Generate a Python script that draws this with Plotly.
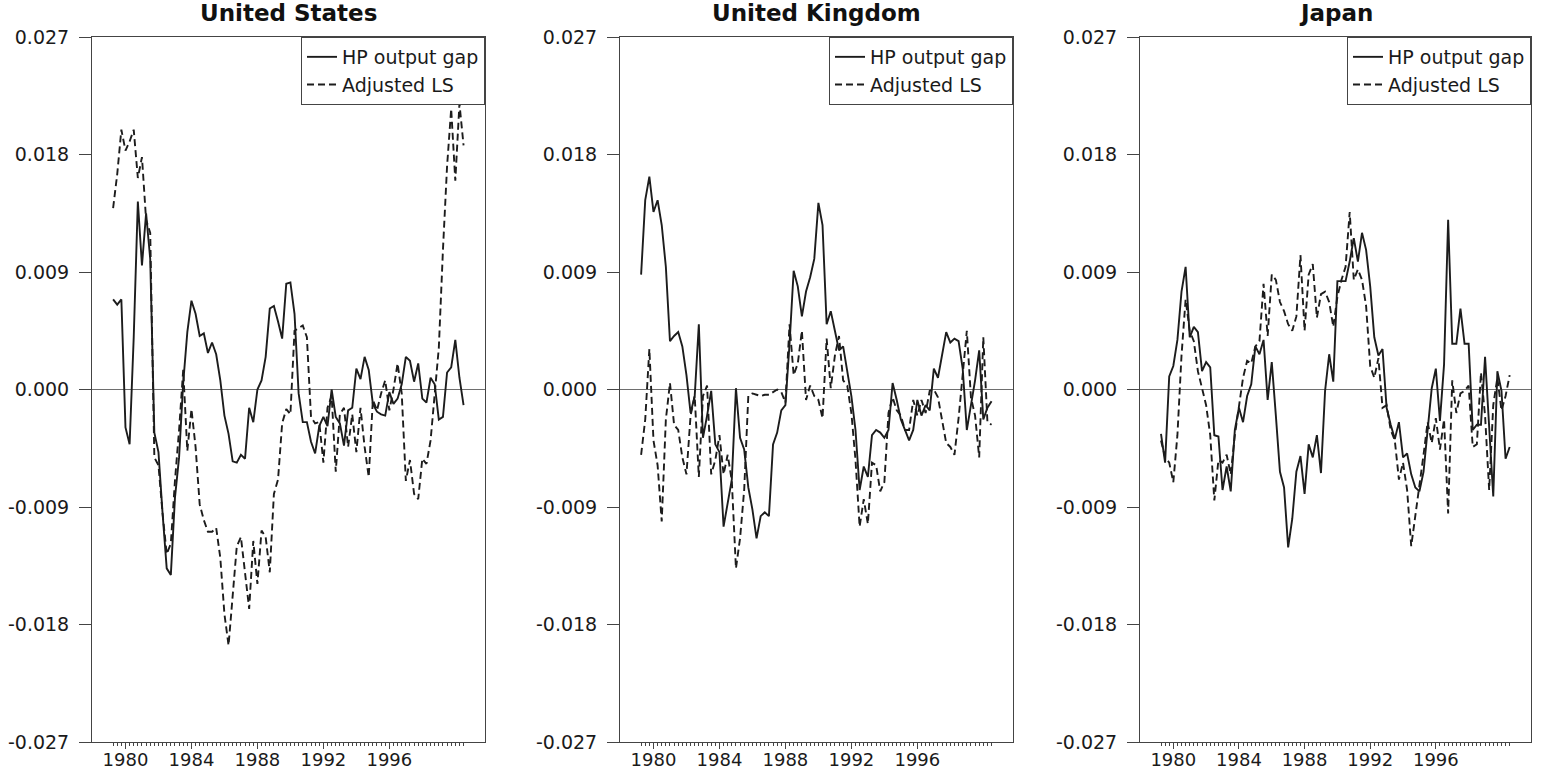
import plotly.graph_objects as go

# ---------------- data (quarterly, 1979Q2 .. 2000Q3) ----------------
n_obs = 86
quarters = [1979.25 + 0.25 * k for k in range(n_obs)]

us_hp = [0.0069, 0.0065, 0.0069, -0.0029, -0.0042, 0.0040, 0.0144, 0.0095, 0.0135, 0.0100,
         -0.0033, -0.0048, -0.0095, -0.0137, -0.0142, -0.0083, -0.0052, 0.0005,
         0.0044, 0.0068, 0.0058, 0.0041, 0.0043, 0.0028, 0.0036, 0.0027, 0.0007, -0.0020,
         -0.0034, -0.0055, -0.0056, -0.0050, -0.0053, -0.0014, -0.0025, 0.0000, 0.0007, 0.0025,
         0.0062, 0.0064, 0.0052, 0.0039, 0.0081, 0.0082, 0.0058, -0.0003, -0.0025, -0.0025,
         -0.0040, -0.0049, -0.0028, -0.0021, -0.0028, 0.0000, -0.0021, -0.0026, -0.0043, -0.0016,
         -0.0014, 0.0016, 0.0008, 0.0025, 0.0015, -0.0011, -0.0017, -0.0019, -0.0020, -0.0002,
         -0.0011, -0.0007, 0.0004, 0.0025, 0.0022, 0.0006, 0.0020, -0.0007, -0.0010, 0.0009,
         0.0004, -0.0023, -0.0021, 0.0013, 0.0017, 0.0038, 0.0009, -0.0012]
us_ls = [0.0139, 0.0165, 0.0199, 0.0183, 0.0190, 0.0199, 0.0162, 0.0178, 0.0130, 0.0120,
         -0.0052, -0.0058, -0.0095, -0.0126, -0.0118, -0.0070, -0.0031, 0.0015, -0.0047, -0.0015,
         -0.0044, -0.0088, -0.0100, -0.0109, -0.0109, -0.0106, -0.0129, -0.0172, -0.0196, -0.0157,
         -0.0120, -0.0113, -0.0141, -0.0168, -0.0116, -0.0149, -0.0108, -0.0113, -0.0140, -0.0080,
         -0.0069, -0.0026, -0.0015, -0.0019, 0.0045, 0.0047, 0.0049, 0.0040, -0.0021, -0.0026,
         -0.0025, -0.0056, -0.0014, -0.0005, -0.0063, -0.0019, -0.0014, -0.0044, -0.0019, -0.0048,
         -0.0014, -0.0044, -0.0067, -0.0008, -0.0016, -0.0003, 0.0007, -0.0016, 0.0000, 0.0020,
         -0.0003, -0.0070, -0.0054, -0.0080, -0.0084, -0.0053, -0.0057, -0.0039, -0.0006, 0.0032,
         0.0107, 0.0171, 0.0215, 0.0160, 0.0219, 0.0187]

uk_hp = [0.0088, 0.0145, 0.0163, 0.0136, 0.0145, 0.0126, 0.0094, 0.0037, 0.0041, 0.0044,
         0.0033, 0.0011, -0.0018, -0.0005, 0.0050, -0.0037, -0.0020, -0.0001, -0.0042, -0.0048,
         -0.0105, -0.0088, -0.0069, 0.0001, -0.0037, -0.0046, -0.0075, -0.0092, -0.0114, -0.0097,
         -0.0094, -0.0097, -0.0042, -0.0033, -0.0016, -0.0012, 0.0035, 0.0091, 0.0079, 0.0056,
         0.0075, 0.0086, 0.0100, 0.0143, 0.0126, 0.0050, 0.0060, 0.0045, 0.0030, 0.0033,
         0.0013, -0.0005, -0.0031, -0.0077, -0.0059, -0.0067, -0.0035, -0.0031, -0.0033, -0.0037,
         -0.0031, 0.0005, -0.0008, -0.0023, -0.0031, -0.0039, -0.0031, -0.0008, -0.0020, -0.0012,
         -0.0016, 0.0016, 0.0009, 0.0026, 0.0044, 0.0036, 0.0039, 0.0037, 0.0016, -0.0031,
         -0.0012, 0.0007, 0.0030, -0.0023, -0.0014, -0.0009]
uk_ls = [-0.0050, -0.0023, 0.0031, -0.0039, -0.0058, -0.0101, -0.0023, 0.0005, -0.0027, -0.0031,
         -0.0052, -0.0065, -0.0020, -0.0005, -0.0067, -0.0005, 0.0003, -0.0065, -0.0054, -0.0035,
         -0.0065, -0.0050, -0.0070, -0.0137, -0.0114, -0.0077, -0.0005, -0.0003, -0.0004, -0.0005,
         -0.0004, -0.0004, -0.0002, 0.0000, -0.0002, -0.0010, 0.0050, 0.0011, 0.0020, 0.0045,
         -0.0008, 0.0003, -0.0005, -0.0008, -0.0022, 0.0039, 0.0001, 0.0026, 0.0041, 0.0007,
         0.0003, -0.0018, -0.0054, -0.0105, -0.0084, -0.0103, -0.0056, -0.0058, -0.0078, -0.0071,
         -0.0018, -0.0006, -0.0016, -0.0020, -0.0031, -0.0031, -0.0008, -0.0020, -0.0008, -0.0018,
         -0.0001, 0.0000, -0.0006, -0.0023, -0.0041, -0.0044, -0.0050, -0.0022, 0.0009, 0.0045,
         -0.0006, -0.0020, -0.0052, 0.0040, -0.0025, -0.0027]

jp_hp = [-0.0034, -0.0056, 0.0010, 0.0018, 0.0038, 0.0075, 0.0094, 0.0040, 0.0048, 0.0044,
         0.0014, 0.0021, 0.0017, -0.0035, -0.0036, -0.0077, -0.0059, -0.0078, -0.0031, -0.0014,
         -0.0025, -0.0005, 0.0004, 0.0033, 0.0027, 0.0038, -0.0008, 0.0021, -0.0020, -0.0063,
         -0.0075, -0.0121, -0.0099, -0.0063, -0.0051, -0.0080, -0.0042, -0.0052, -0.0035, -0.0064,
         -0.0001, 0.0027, 0.0006, 0.0083, 0.0083, 0.0083, 0.0098, 0.0116, 0.0098, 0.0120,
         0.0107, 0.0079, 0.0040, 0.0026, 0.0031, -0.0014, -0.0027, -0.0038, -0.0025, -0.0052,
         -0.0049, -0.0065, -0.0075, -0.0078, -0.0063, -0.0031, 0.0001, 0.0016, -0.0024, 0.0019,
         0.0130, 0.0035, 0.0035, 0.0062, 0.0035, 0.0035, -0.0031, -0.0027, -0.0027, 0.0025,
         -0.0025, -0.0082, 0.0014, -0.0001, -0.0053, -0.0044]
jp_ls = [-0.0039, -0.0052, -0.0056, -0.0071, -0.0035, 0.0026, 0.0069, 0.0045, 0.0037, 0.0014,
         0.0001, -0.0012, -0.0035, -0.0085, -0.0054, -0.0056, -0.0050, -0.0065, -0.0035, -0.0012,
         0.0009, 0.0022, 0.0020, 0.0033, 0.0037, 0.0081, 0.0041, 0.0088, 0.0084, 0.0067,
         0.0060, 0.0050, 0.0045, 0.0056, 0.0103, 0.0045, 0.0088, 0.0096, 0.0055, 0.0073,
         0.0075, 0.0067, 0.0048, 0.0071, 0.0084, 0.0094, 0.0136, 0.0084, 0.0092, 0.0084,
         0.0064, 0.0018, 0.0009, 0.0024, -0.0014, -0.0012, -0.0031, -0.0039, -0.0069, -0.0056,
         -0.0077, -0.0120, -0.0097, -0.0077, -0.0050, -0.0025, -0.0041, -0.0022, -0.0046, -0.0023,
         -0.0095, 0.0007, -0.0018, -0.0003, -0.0001, 0.0003, -0.0044, -0.0042, 0.0013, -0.0020,
         -0.0077, -0.0012, 0.0009, -0.0016, -0.0005, 0.0011]

countries = ["United States", "United Kingdom", "Japan"]
hp_series = [us_hp, uk_hp, jp_hp]
ls_series = [us_ls, uk_ls, jp_ls]
series_names = ["HP output gap", "Adjusted LS"]

year_ticks = list(range(1980, 2001))
year_labels = [str(y) if y in (1980, 1984, 1988, 1992, 1996) else "" for y in year_ticks]
y_ticks = [-0.027, -0.018, -0.009, 0.0, 0.009, 0.018, 0.027]
y_labels = ["-0.027", "-0.018", "-0.009", "0.000", "0.009", "0.018", "0.027"]

# ---------------- layout geometry (pixels) ----------------
W, H = 1545, 773
panels_px = [(92, 485), (620, 1013), (1140, 1531)]
y_top, y_bot = 37, 742
FONT = "DejaVu Sans"
LINE = "#1c1c1c"
FRAME = "#444444"

fig = go.Figure()
layout = dict(
    width=W, height=H,
    margin=dict(l=0, r=0, t=0, b=0, autoexpand=False),
    paper_bgcolor="white", plot_bgcolor="white",
    showlegend=True,
    annotations=[],
)

for k in range(3):
    sfx = "" if k == 0 else str(k + 1)
    xa, ya = "x" + sfx, "y" + sfx
    lg = "legend" + sfx
    fig.add_trace(go.Scatter(x=quarters, y=hp_series[k], mode="lines", name=series_names[0],
                             line=dict(color=LINE, width=1.9), xaxis=xa, yaxis=ya, legend=lg))
    fig.add_trace(go.Scatter(x=quarters, y=ls_series[k], mode="lines", name=series_names[1],
                             line=dict(color=LINE, width=1.9, dash="7px,4px"),
                             xaxis=xa, yaxis=ya, legend=lg))
    x0, x1 = panels_px[k]
    dom_x = [x0 / W, x1 / W]
    dom_y = [1 - y_bot / H, 1 - y_top / H]
    layout["xaxis" + sfx] = dict(
        domain=dom_x, anchor=ya, range=[1977.97, 2001.8], automargin=False,
        showline=True, mirror=True, linecolor=FRAME, linewidth=1,
        showgrid=False, zeroline=False,
        tickmode="array", tickvals=year_ticks, ticktext=year_labels,
        ticks="outside", ticklen=6, tickcolor=FRAME, tickwidth=1,
        minor=dict(tickmode="array", tickvals=quarters, ticks="outside", ticklen=3,
                   tickcolor=FRAME, tickwidth=1, showgrid=False),
        ticklabelstandoff=-5,
        tickfont=dict(family=FONT, size=18, color="#1a1a1a"),
        fixedrange=True,
    )
    layout["yaxis" + sfx] = dict(
        domain=dom_y, anchor=xa, range=[-0.0270001, 0.0270001], automargin=False,
        showline=True, mirror=True, linecolor=FRAME, linewidth=1,
        showgrid=False, zeroline=True, zerolinecolor="#6e6e6e", zerolinewidth=1,
        tickmode="array", tickvals=y_ticks, ticktext=y_labels,
        ticks="outside", ticklen=12, tickcolor=FRAME, tickwidth=1,
        ticklabelstandoff=6,
        tickfont=dict(family=FONT, size=19, color="#1a1a1a"),
        fixedrange=True,
    )
    layout[lg] = dict(
        x=x1 / W, xanchor="right", y=1 - y_top / H, yanchor="top",
        xref="paper", yref="paper",
        bgcolor="white", bordercolor=FRAME, borderwidth=1,
        font=dict(family=FONT, size=19, color="#1a1a1a"),
        itemwidth=30, tracegroupgap=0,
    )
    layout["annotations"].append(dict(
        text="<b>" + countries[k] + "</b>", x=(x0 + x1) / 2 / W, y=1 - 13 / H,
        xref="paper", yref="paper", xanchor="center", yanchor="middle",
        showarrow=False, font=dict(family=FONT, size=23, color="#111111"),
    ))

fig.update_layout(**layout)
fig.write_html("out.html", config={"displayModeBar": False},
               post_script="document.body.style.margin='0';document.body.style.overflow='hidden';")
